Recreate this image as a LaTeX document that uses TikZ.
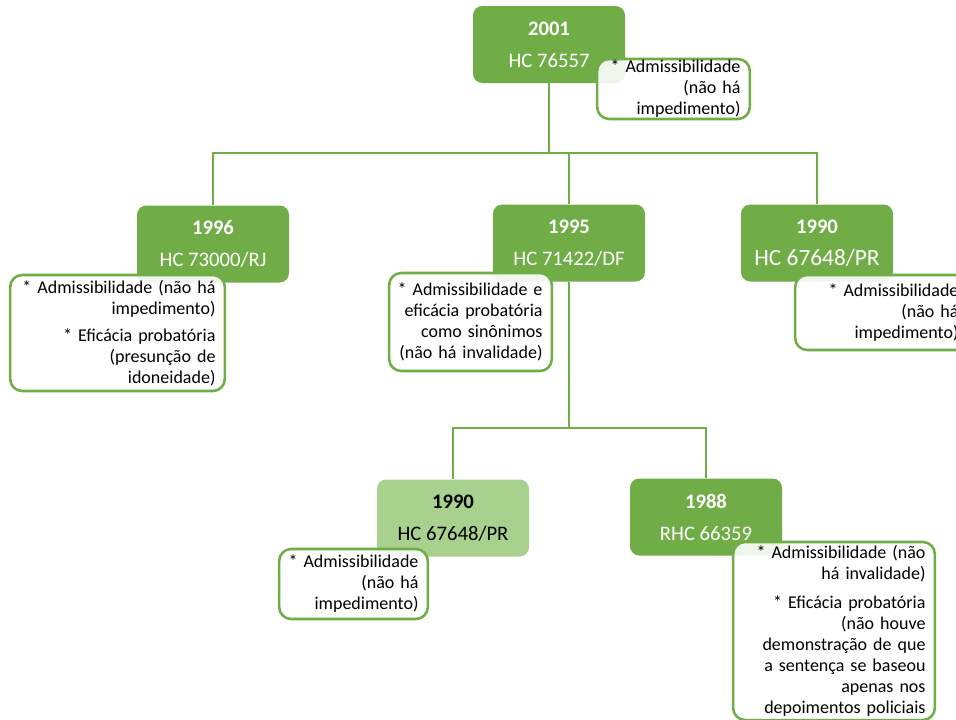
\documentclass[tikz,border=0pt]{standalone}
\usepackage{fontspec}
\setmainfont{Carlito}
\definecolor{leaf}{HTML}{70AD47}
\definecolor{paleleaf}{HTML}{A9D18E}
\newcommand\noteline[1]{\makebox[\linewidth][r]{#1}}

\begin{document}
\begin{tikzpicture}[x=0.75pt,y=-0.75pt,
    yearbox/.style={fill=leaf,text=white,rounded corners=7pt,minimum width=114pt,
        minimum height=57.75pt,inner sep=0pt,align=center,font=\fontsize{15.5}{24}\selectfont},
    notebox/.style={draw=leaf,line width=1.9pt,fill=white,fill opacity=0.9,text opacity=1,
        rounded corners=9pt,align=right,inner xsep=7pt,inner ysep=0pt,
        font=\fontsize{13.5}{15.75}\selectfont},
    link/.style={draw=leaf,line width=1.9pt}]
    \useasboundingbox (0,0) rectangle (956,719);

    % year boxes
    \node[yearbox] (y2001) at (549,44.5) {\textbf{2001}\\HC 76557};
    \node[yearbox] (y1996) at (213,244) {\textbf{1996}\\HC 73000/RJ};
    \node[yearbox] (y1995) at (569,243) {\textbf{1995}\\HC 71422/DF};
    \node[yearbox] (y1990a) at (817,243) {\textbf{1990}\\{\fontsize{17.5}{24}\selectfont HC 67648/PR}};
    \node[yearbox,fill=paleleaf,text=black] (y1990b) at (453,518) {\textbf{1990}\\HC 67648/PR};
    \node[yearbox] (y1988) at (706,517) {\textbf{1988}\\RHC 66359};

    % tree lines
    \coordinate (j1) at (549,153);
    \coordinate (j2) at (569,428);
    \draw[link] (y2001.south) -- (j1);
    \draw[link] (y1996.north) |- (j1) -| (y1990a.north);
    \draw[link] (y1995.north) -- (y1995.north |- j1);
    \draw[link] (y1995.south) -- (j2);
    \draw[link] (y1990b.north) |- (j2) -| (y1988.north);

    % notes
    \node[notebox,text width=100.5pt,minimum height=45pt] (n2001) at (673.5,89)
        {\noteline{* Admissibilidade}\\\noteline{(não há}\\\noteline{impedimento)}};
    \node[notebox,text width=147pt,minimum height=87pt] (n1996) at (117.5,333)
        {\noteline{* Admissibilidade (não há}\\\noteline{impedimento)}\\[4.5pt]\noteline{* Eficácia probatória}\\\noteline{(presunção de}\\\noteline{idoneidade)}};
    \node[notebox,text width=108pt,minimum height=73.5pt] (n1995) at (470.5,322)
        {\noteline{* Admissibilidade e}\\\noteline{eficácia probatória}\\\noteline{como sinônimos}\\\noteline{(não há invalidade)}};
    \node[notebox,text width=115.5pt,minimum height=56.25pt] (n1990a) at (881.5,312.5)
        {\noteline{* Admissibilidade}\\\noteline{(não há}\\\noteline{impedimento)}};
    \node[notebox,text width=97.5pt,minimum height=52.5pt] (n1990b) at (353.5,584)
        {\noteline{* Admissibilidade}\\\noteline{(não há}\\\noteline{impedimento)}};
    \node[notebox,text width=137.25pt,minimum height=133.5pt] (n1988) at (834,631)
        {\noteline{* Admissibilidade (não}\\\noteline{há invalidade)}\\[6pt]\noteline{* Eficácia probatória}\\\noteline{(não houve}\\\noteline{demonstração de que}\\\noteline{a sentença se baseou}\\\noteline{apenas nos}\\\noteline{depoimentos policiais}};
\end{tikzpicture}
\end{document}
